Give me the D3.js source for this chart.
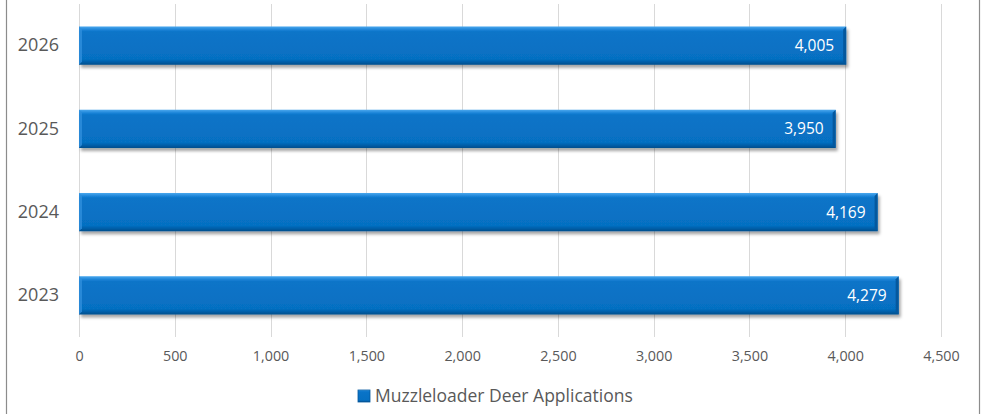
<!DOCTYPE html>
<html>
<head>
<meta charset="utf-8">
<script src="https://cdn.jsdelivr.net/npm/d3@7"></script>
<style>
	body { margin: 0; background: #fff; }
	text { font-family: "Open Sans", sans-serif; }
</style>
</head>
<body>
<div id="chart"></div>
<script>
// data
let years = ["2026", "2025", "2024", "2023"];
let applications = [4005, 3950, 4169, 4279];
let xTicks = [0, 500, 1000, 1500, 2000, 2500, 3000, 3500, 4000, 4500];
let seriesName = "Muzzleloader Deer Applications";

let width = 987,
	height = 414;

let plot = { left: 79, right: 941, top: 4, bottom: 337 };

let svg = d3.select('#chart').append('svg')
	.attr('width', width)
	.attr('height', height);

let defs = svg.append('defs');

let grad = defs.append('linearGradient')
	.attr('id', 'barFill')
	.attr('x1', 0).attr('y1', 0).attr('x2', 0).attr('y2', 1);
grad.append('stop').attr('offset', '0%').attr('stop-color', '#4aa8ee');
grad.append('stop').attr('offset', '9%').attr('stop-color', '#1a82d6');
grad.append('stop').attr('offset', '14%').attr('stop-color', '#0a74c8');
grad.append('stop').attr('offset', '85%').attr('stop-color', '#0670c2');
grad.append('stop').attr('offset', '92%').attr('stop-color', '#0660ab');
grad.append('stop').attr('offset', '100%').attr('stop-color', '#044e8c');

let shadow = defs.append('filter')
	.attr('id', 'shadow')
	.attr('x', '-5%').attr('y', '-20%').attr('width', '110%').attr('height', '160%');
shadow.append('feDropShadow')
	.attr('dx', 2).attr('dy', 3).attr('stdDeviation', 1.8)
	.attr('flood-color', '#000').attr('flood-opacity', 0.35);

// frame (only the side edges show)
svg.append('rect')
	.attr('x', 6.5).attr('y', -10)
	.attr('width', 973).attr('height', height + 20)
	.attr('fill', 'none')
	.attr('stroke', '#8c8c8c')
	.attr('stroke-width', 1.2);

let x = d3.scaleLinear()
	.domain([0, 4500])
	.range([plot.left, plot.right]);

let y = d3.scaleBand()
	.domain(years)
	.range([plot.top, plot.bottom])
	.paddingInner(0.54)
	.paddingOuter(0.27);

// gridlines
svg.append('g')
	.selectAll('line')
	.data(xTicks)
	.enter().append('line')
	.attr('x1', d => Math.round(x(d)) + 0.5)
	.attr('x2', d => Math.round(x(d)) + 0.5)
	.attr('y1', plot.top)
	.attr('y2', plot.bottom)
	.attr('stroke', '#d9d9d9')
	.attr('stroke-width', 1);

// x axis labels
let xAxis = d3.axisBottom(x)
	.tickValues(xTicks)
	.tickFormat(d3.format(','))
	.tickSize(0)
	.tickPadding(14);

let gx = svg.append('g')
	.attr('transform', 'translate(0,' + plot.bottom + ')')
	.call(xAxis);
gx.select('.domain').remove();
gx.selectAll('text')
	.attr('fill', '#595959')
	.style('font-size', '14.3px')
	.style('font-family', '"Open Sans", sans-serif');

// y axis labels
let yAxis = d3.axisLeft(y)
	.tickSize(0)
	.tickPadding(20);

let gy = svg.append('g')
	.attr('transform', 'translate(' + plot.left + ',0)')
	.call(yAxis);
gy.select('.domain').remove();
gy.selectAll('text')
	.attr('fill', '#595959')
	.style('font-size', '18px')
	.style('font-family', '"Open Sans", sans-serif');

let rows = years.map(function(d, i) {
	return { year: d, value: applications[i] };
});

// bars
let bars = svg.append('g')
	.selectAll('.bar')
	.data(rows)
	.enter().append('g').classed('bar', true);

bars.append('rect')
	.attr('x', x(0))
	.attr('y', d => y(d.year))
	.attr('width', d => x(d.value) - x(0))
	.attr('height', y.bandwidth())
	.attr('fill', 'url(#barFill)')
	.attr('filter', 'url(#shadow)');

// bevel: left edge lighter, right edge darker
let bev = 3;
bars.append('polygon')
	.attr('points', function(d) {
		let x0 = x(0), y0 = y(d.year), h = y.bandwidth();
		return [[x0, y0], [x0 + bev, y0 + bev], [x0 + bev, y0 + h - bev], [x0, y0 + h]].join(' ');
	})
	.attr('fill', '#2f8fdc')
	.attr('opacity', 0.8);

bars.append('polygon')
	.attr('points', function(d) {
		let x1 = x(d.value), y0 = y(d.year), h = y.bandwidth();
		return [[x1, y0], [x1, y0 + h], [x1 - bev, y0 + h - bev], [x1 - bev, y0 + bev]].join(' ');
	})
	.attr('fill', '#04589e');

// value labels
bars.append('text')
	.attr('x', d => x(d.value) - 12)
	.attr('y', d => y(d.year) + y.bandwidth() / 2)
	.attr('dy', '0.36em')
	.attr('text-anchor', 'end')
	.attr('fill', '#ffffff')
	.style('font-size', '15.5px')
	.text(d => d3.format(',')(d.value));

// legend
let legend = svg.append('g')
	.attr('transform', 'translate(358,390)');

legend.append('rect')
	.attr('x', 0).attr('y', 0)
	.attr('width', 12).attr('height', 12)
	.attr('fill', 'url(#barFill)')
	.attr('stroke', '#04589e')
	.attr('stroke-width', 0.8);

legend.append('text')
	.attr('x', 17)
	.attr('y', 6)
	.attr('dy', '0.36em')
	.attr('fill', '#595959')
	.style('font-size', '17.5px')
	.text(seriesName);
</script>
</body>
</html>
